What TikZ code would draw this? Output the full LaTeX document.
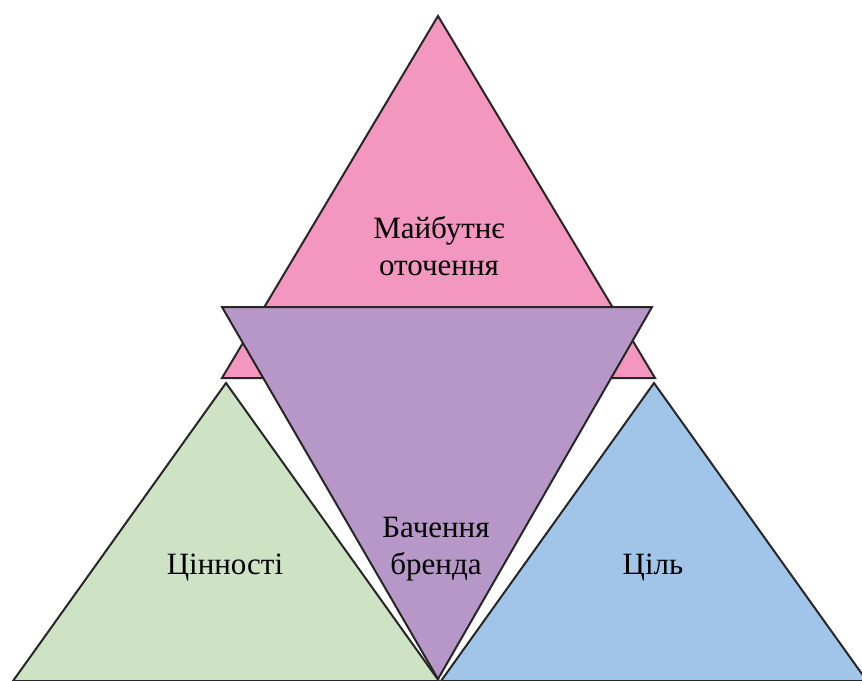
\documentclass[tikz,border=0pt]{standalone}
\usepackage{fontspec}
\setmainfont{Liberation Serif}
\definecolor{pinkc}{RGB}{243,151,192}
\definecolor{purplec}{RGB}{183,151,199}
\definecolor{greenc}{RGB}{205,227,196}
\definecolor{bluec}{RGB}{160,197,232}
\begin{document}
\begin{tikzpicture}[x=1pt,y=-1pt,
  tri/.style={draw=black!85,line width=2pt,line join=miter},
  lbl/.style={font=\fontsize{31}{37}\selectfont,align=center,inner sep=0pt,anchor=base}]
\useasboundingbox (0,0) rectangle (862,680);
\begin{scope}
\clip (0,0) rectangle (862,680);
\draw[tri,fill=pinkc] (438,16) -- (655,378) -- (222,378) -- cycle;
\draw[tri,fill=greenc] (226,383) -- (439,681) -- (13,681) -- cycle;
\draw[tri,fill=bluec] (654,383) -- (867,681) -- (441,681) -- cycle;
\draw[tri,fill=purplec] (222,307) -- (652,307) -- (438,679) -- cycle;
\end{scope}
\node[lbl] (a) at (439,238) {Майбутнє};
\node[lbl] (a2) at (439,275) {оточення};
\node[lbl] (b) at (436,537) {Бачення};
\node[lbl] (b2) at (436,574) {бренда};
\node[lbl] (c) at (225,574) {Цінності};
\node[lbl] (d) at (653,574) {Ціль};
\end{tikzpicture}
\end{document}
